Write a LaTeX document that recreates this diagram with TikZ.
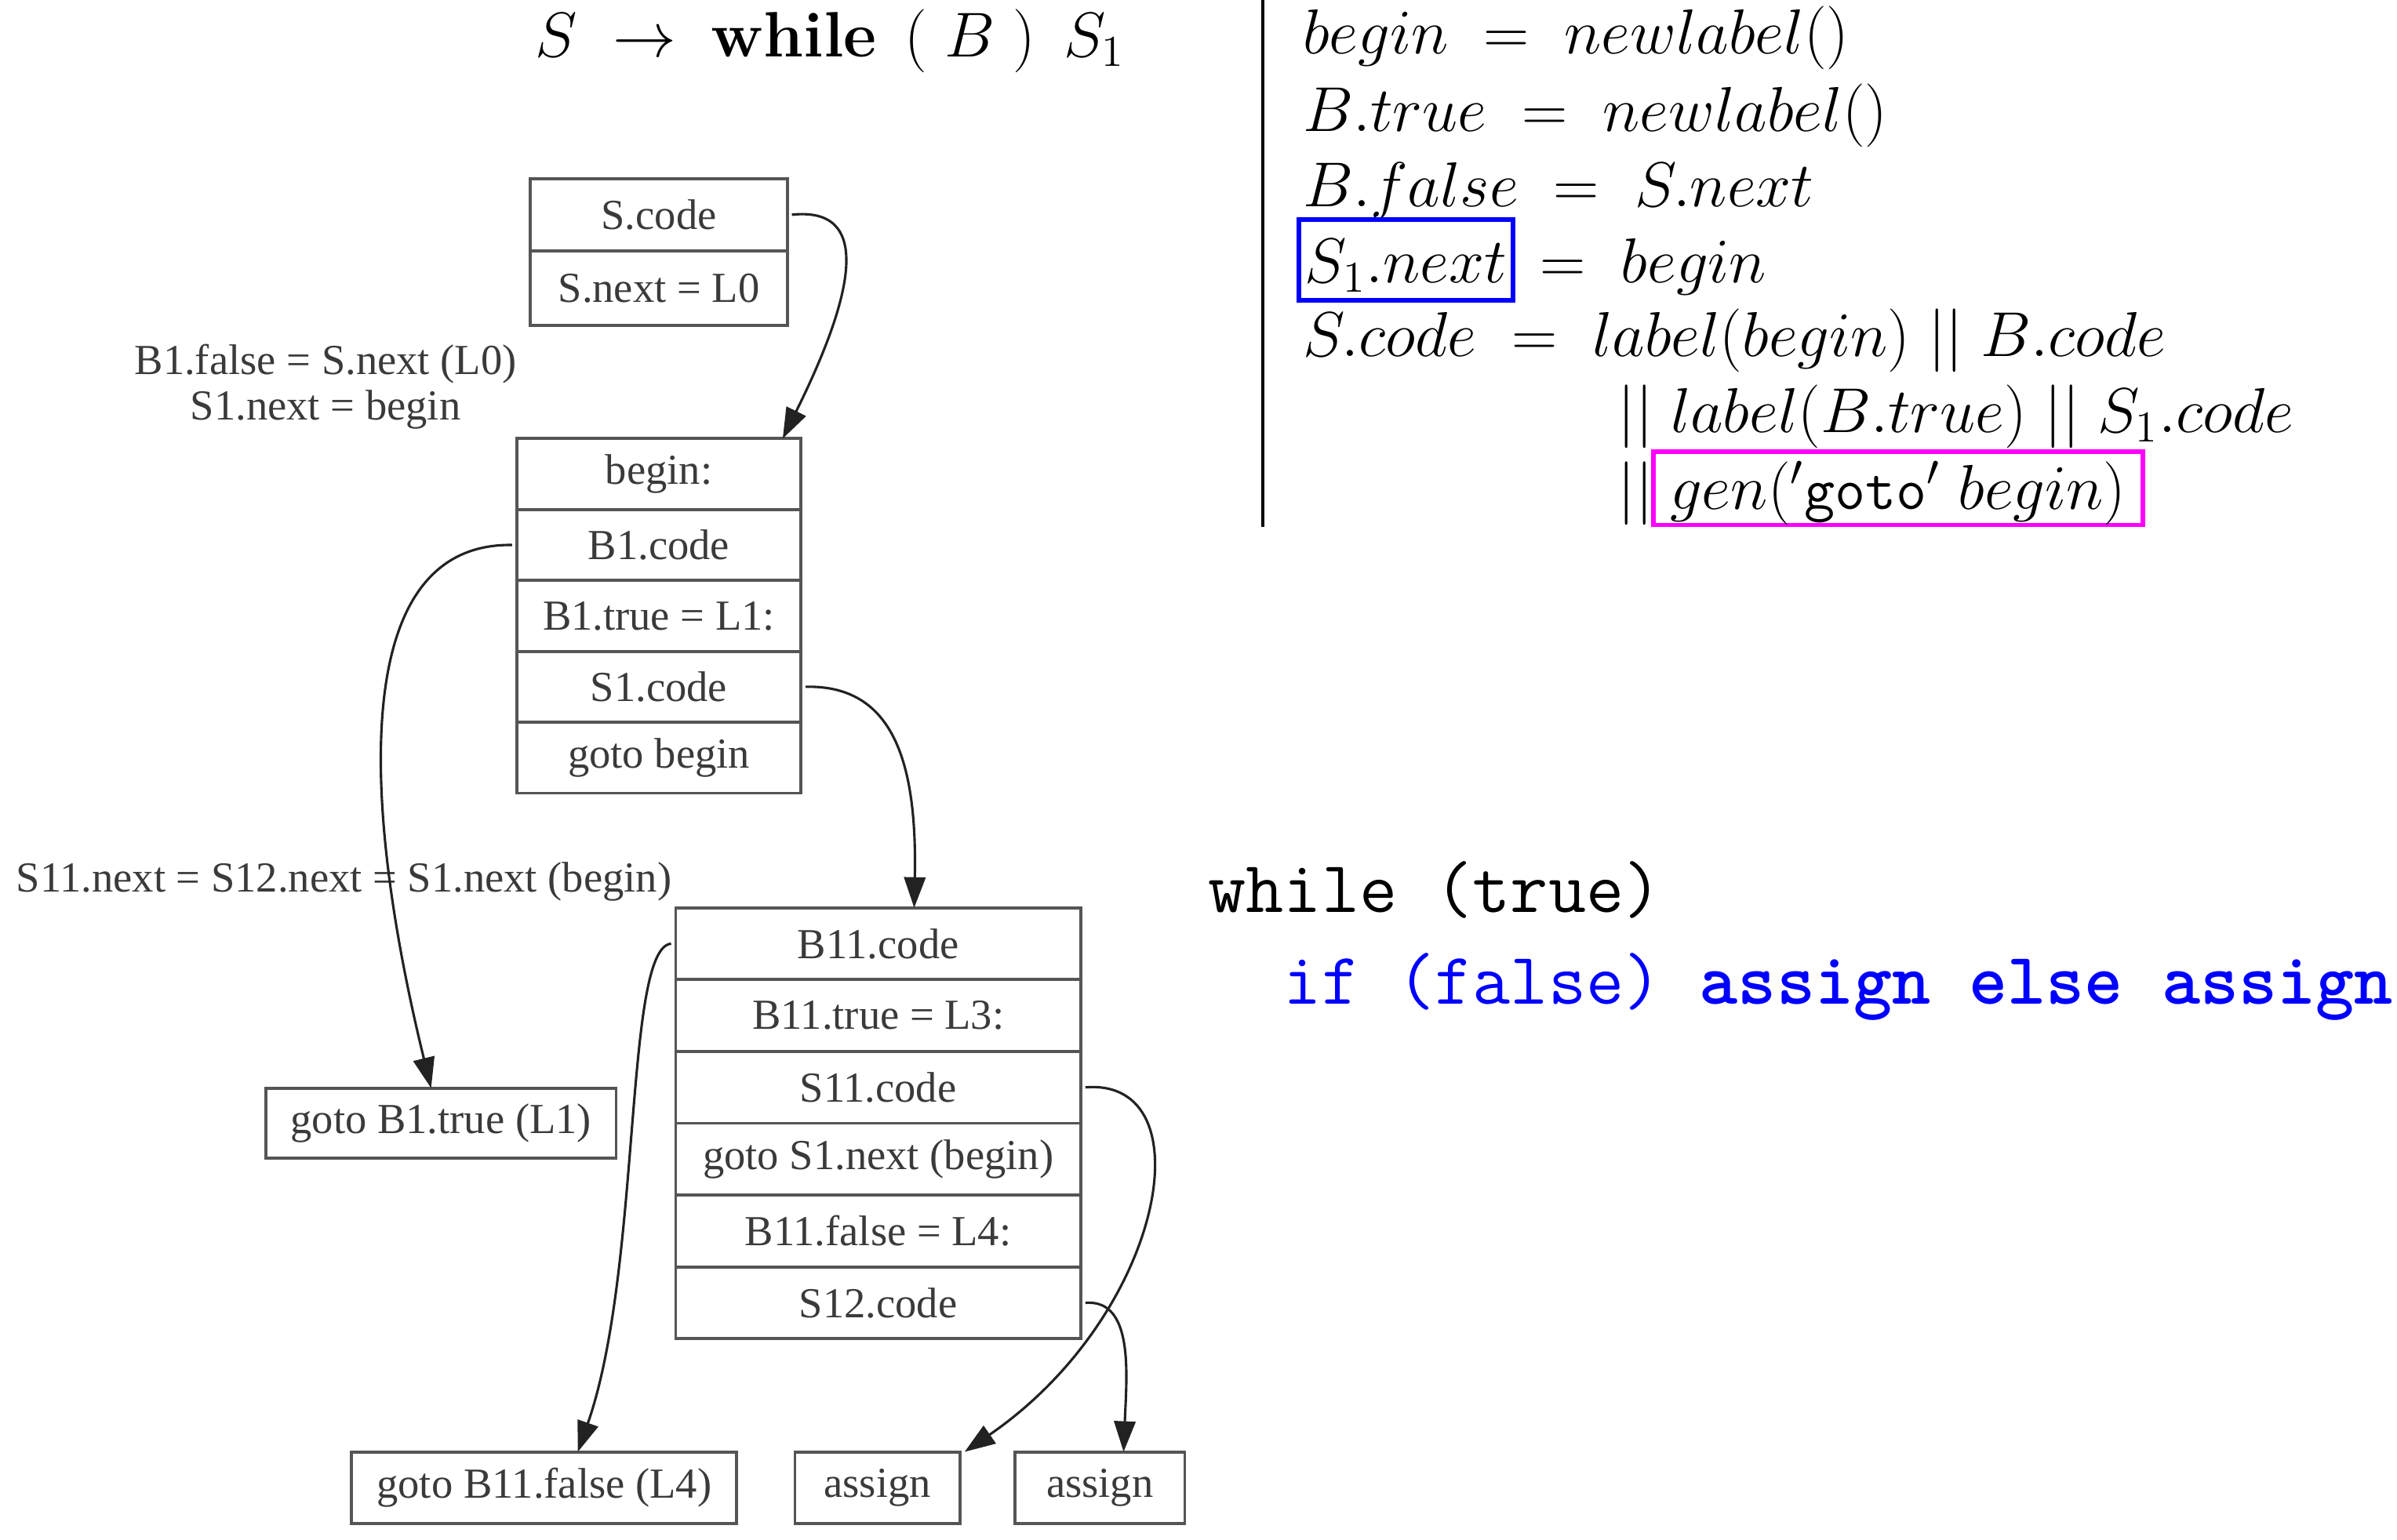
\documentclass[tikz,border=0pt]{standalone}
\usepackage{fontspec}
\newfontfamily\timesf{Liberation Serif}
\usetikzlibrary{arrows.meta,calc}
\definecolor{boxgray}{HTML}{555555}
\definecolor{txtgray}{HTML}{3A3A3A}
\definecolor{edgec}{HTML}{222222}
\definecolor{mag}{RGB}{255,0,255}
\definecolor{pblue}{RGB}{0,0,255}
\begin{document}
\begin{tikzpicture}[x=0.5pt,y=-0.5pt,
  cell/.style={draw=boxgray, line width=1pt, font=\timesf\fontsize{14}{15}\selectfont, text=txtgray, inner sep=0pt, outer sep=0pt, anchor=north},
  sbox/.style={draw=boxgray, line width=1pt, font=\timesf\fontsize{14}{15}\selectfont, text=txtgray, inner sep=0pt, outer sep=0pt, minimum height=23.5pt},
  edge/.style={draw=edgec, line width=0.8pt, -{Triangle[length=10pt,width=7pt]}},
  lbl/.style={font=\timesf\fontsize{14}{15}\selectfont, text=txtgray, align=center, inner sep=0pt},
  mathl/.style={font=\fontsize{19.5}{24}\selectfont, anchor=base west, inner sep=0pt},
  codel/.style={font=\ttfamily\fontsize{24}{30}\selectfont, anchor=base west, inner sep=0pt},
]
\useasboundingbox (0,0) rectangle (1568,1007.7);

% ---- title
\node[anchor=base west, inner sep=0pt, font=\fontsize{21}{25}\selectfont] (title) at (350,37)
  {$S\;\rightarrow\;\textbf{while}\;\,(\;B\;)\;\,S_1$};

% ---- box A
\node[cell, minimum width=84pt, minimum height=23.5pt] (a1) at (431,117) {S.code};
\node[cell, minimum width=84pt, minimum height=24.5pt] (a2) at (a1.south) {S.next = L0};

% ---- box B
\node[cell, minimum width=93pt, minimum height=23.2pt] (b1) at (431,287) {begin:};
\node[cell, minimum width=93pt, minimum height=23.2pt] (b2) at (b1.south) {B1.code};
\node[cell, minimum width=93pt, minimum height=23.2pt] (b3) at (b2.south) {B1.true = L1:};
\node[cell, minimum width=93pt, minimum height=23.2pt] (b4) at (b3.south) {S1.code};
\node[cell, minimum width=93pt, minimum height=23.2pt] (b5) at (b4.south) {goto begin};

% ---- box C
\node[cell, minimum width=132.5pt, minimum height=23.5pt] (c1) at (574.5,594) {B11.code};
\node[cell, minimum width=132.5pt, minimum height=23.5pt] (c2) at (c1.south) {B11.true = L3:};
\node[cell, minimum width=132.5pt, minimum height=23.5pt] (c3) at (c2.south) {S11.code};
\node[cell, minimum width=132.5pt, minimum height=23.5pt] (c4) at (c3.south) {goto S1.next (begin)};
\node[cell, minimum width=132.5pt, minimum height=23.5pt] (c5) at (c4.south) {B11.false = L4:};
\node[cell, minimum width=132.5pt, minimum height=23.5pt] (c6) at (c5.south) {S12.code};

% ---- single boxes
\node[sbox, minimum width=114.5pt, minimum height=23pt] (d) at (288.5,735) {goto B1.true (L1)};
\node[sbox, minimum width=126pt] (e) at (356,973.5) {goto B11.false (L4)};
\node[sbox, minimum width=54pt] (f) at (574,973.5) {assign};
\node[sbox, minimum width=55.5pt] (g) at (719.5,973.5) {assign};

% ---- labels
\node[lbl] (l1) at (213,253) {B1.false = S.next (L0)\\S1.next = begin};
\node[lbl] (l2) at (225,577) {S11.next = S12.next = S1.next (begin)};

% ---- edges
\draw[edge] ([xshift=1.5pt]a1.east) .. controls (570,135) and (560,190) .. ($(b1.north east)+(-12,0)$);
\draw[edge] ([xshift=-1.5pt]b2.west) .. controls (230,355) and (235,520) .. ($(d.north west)+(108,0)$);
\draw[edge] ([xshift=1.5pt]b4.east) .. controls (585,448) and (600,500) .. ($(c1.north west)+(156,0)$);
\draw[edge] ([xshift=-1.5pt]c1.west) .. controls (408,620) and (420,830) .. ($(e.north west)+(148,0)$);
\draw[edge] ([xshift=1.5pt]c3.east) .. controls (790,705) and (762,860) .. ($(f.north east)+(3,0)$);
\draw[edge] ([xshift=1.5pt]c6.east) .. controls (742,850) and (737,900) .. ($(g.north west)+(71,0)$);

% ---- right rule
\coordinate (vtop) at (826,0);
\coordinate (vbot) at (826,345);
\draw[line width=1pt] (vtop) -- (vbot);

\node[mathl] (m1) at (852,35) {$begin \;=\; newlabel()$};
\node[mathl] (m2) at (852,86) {$B.true \;=\; newlabel()$};
\node[mathl] (m3) at (852,135) {$B.false \;=\; S.next$};
\node[mathl, draw=pblue, line width=1.5pt, inner xsep=2pt, text height=20.75pt, text depth=5.75pt] (m4a) at (848,185) {$S_1.next$};
\node[mathl] (m4b) at ([xshift=8pt]m4a.base east) {$=\; begin$};
\node[mathl] (m5) at (852,233) {$S.code \;=\; label(begin) \;||\; B.code$};
\node[mathl] (m6) at (1058,283) {$||\; label(B.true) \;||\; S_1.code$};
\node[mathl] (m7a) at (1058,333) {$||$};
\node[mathl, draw=mag, line width=1.5pt, inner xsep=5.5pt, text height=18.75pt, text depth=5.25pt] (m7b) at (1080,333) {$gen('\texttt{goto}'\; begin)$};

% ---- code
\node[codel] (w1) at (790,597) {while (true)};
\node[codel, text=pblue] (w2) at (790,657) {\ \ if (false) \textbf{assign else assign}};
\end{tikzpicture}
\end{document}
